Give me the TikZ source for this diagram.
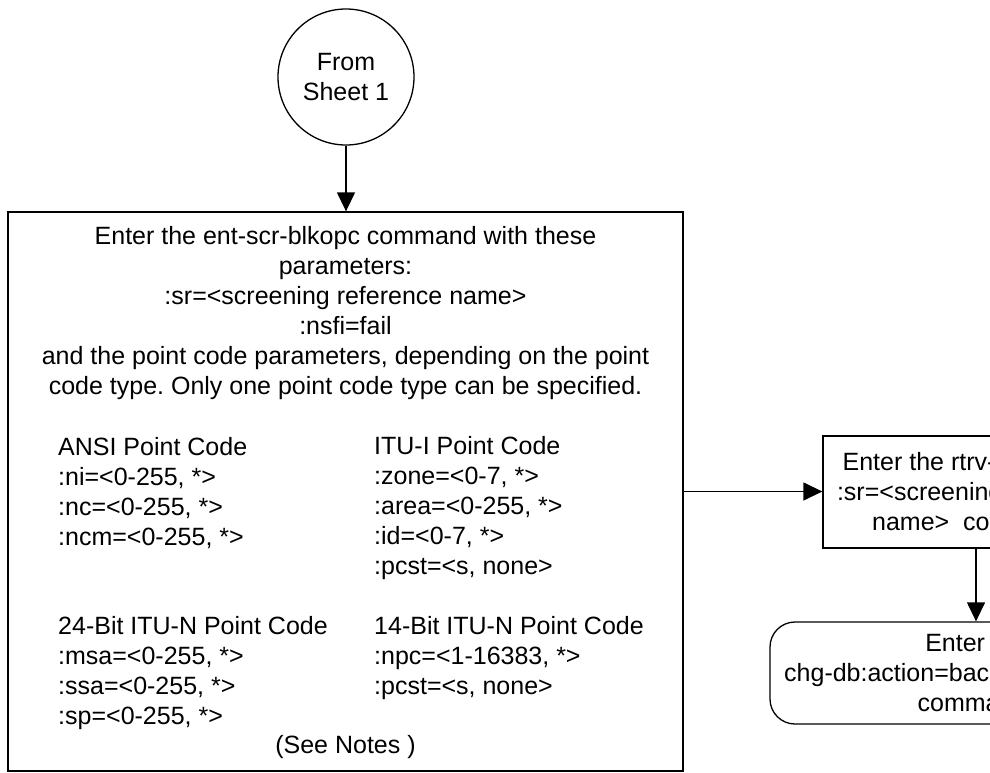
\documentclass[tikz,border=0pt]{standalone}
\usepackage{fontspec}
\setmainfont{Liberation Sans}
\usetikzlibrary{arrows.meta}
\frenchspacing
\tikzstyle{sbox}=[rectangle, draw=black, line width=1.3pt, inner sep=0pt]
\tikzstyle{txt}=[inner sep=0pt, font=\fontsize{25}{30}\selectfont]
\tikzstyle{farr}=[-{Triangle[length=19pt,width=18pt]}, line width=1.3pt]

\begin{document}
\begin{tikzpicture}[x=1pt,y=-1pt]
    \useasboundingbox (0,0) rectangle (990,773);
    \clip (0,0) rectangle (990,773);
    \node[sbox, circle, minimum size=136pt, txt, align=center] (from) at (346,77) {From\\Sheet 1};
    \node[sbox, minimum width=675pt, minimum height=559pt] (entbox) at (345.5,491.5) {};
    \node[txt, align=center] (head) at (345.5,313) {Enter the ent-scr-blkopc command with these\\parameters:\\:sr=<screening reference name>\\:nsfi=fail\\and the point code parameters, depending on the point\\code type. Only one point code type can be specified.};
    \node[txt, align=left, anchor=west] (ansi) at (58,493) {ANSI Point Code\\:ni=<0-255, *>\\:nc=<0-255, *>\\:ncm=<0-255, *>};
    \node[txt, align=left, anchor=west] (itui) at (374,508) {ITU-I Point Code\\:zone=<0-7, *>\\:area=<0-255, *>\\:id=<0-7, *>\\:pcst=<s, none>};
    \node[txt, align=left, anchor=west] (itun24) at (58,673) {24-Bit ITU-N Point Code\\:msa=<0-255, *>\\:ssa=<0-255, *>\\:sp=<0-255, *>};
    \node[txt, align=left, anchor=west] (itun14) at (374,658) {14-Bit ITU-N Point Code\\:npc=<1-16383, *>\\:pcst=<s, none>};
    \node[txt] (notes) at (345.5,747.5) {(See Notes )};
    \node[sbox, minimum width=306pt, minimum height=112pt, txt, align=center] (rtrv) at (976,492) {Enter the rtrv-scr-blkopc\\:sr=<screening reference\\name>~~command.};
    \node[sbox, rounded corners=25pt, minimum width=412pt, minimum height=102pt, txt, align=center] (backup) at (976,673) {Enter the\\chg-db:action=backup:dest=fanout\\command.};
    \draw[farr] (from.south) -- (from.south |- entbox.north);
    \draw[farr] (entbox.east) -- (entbox.east -| rtrv.west);
    \draw[farr] (rtrv) -- (backup);
\end{tikzpicture}
\end{document}
